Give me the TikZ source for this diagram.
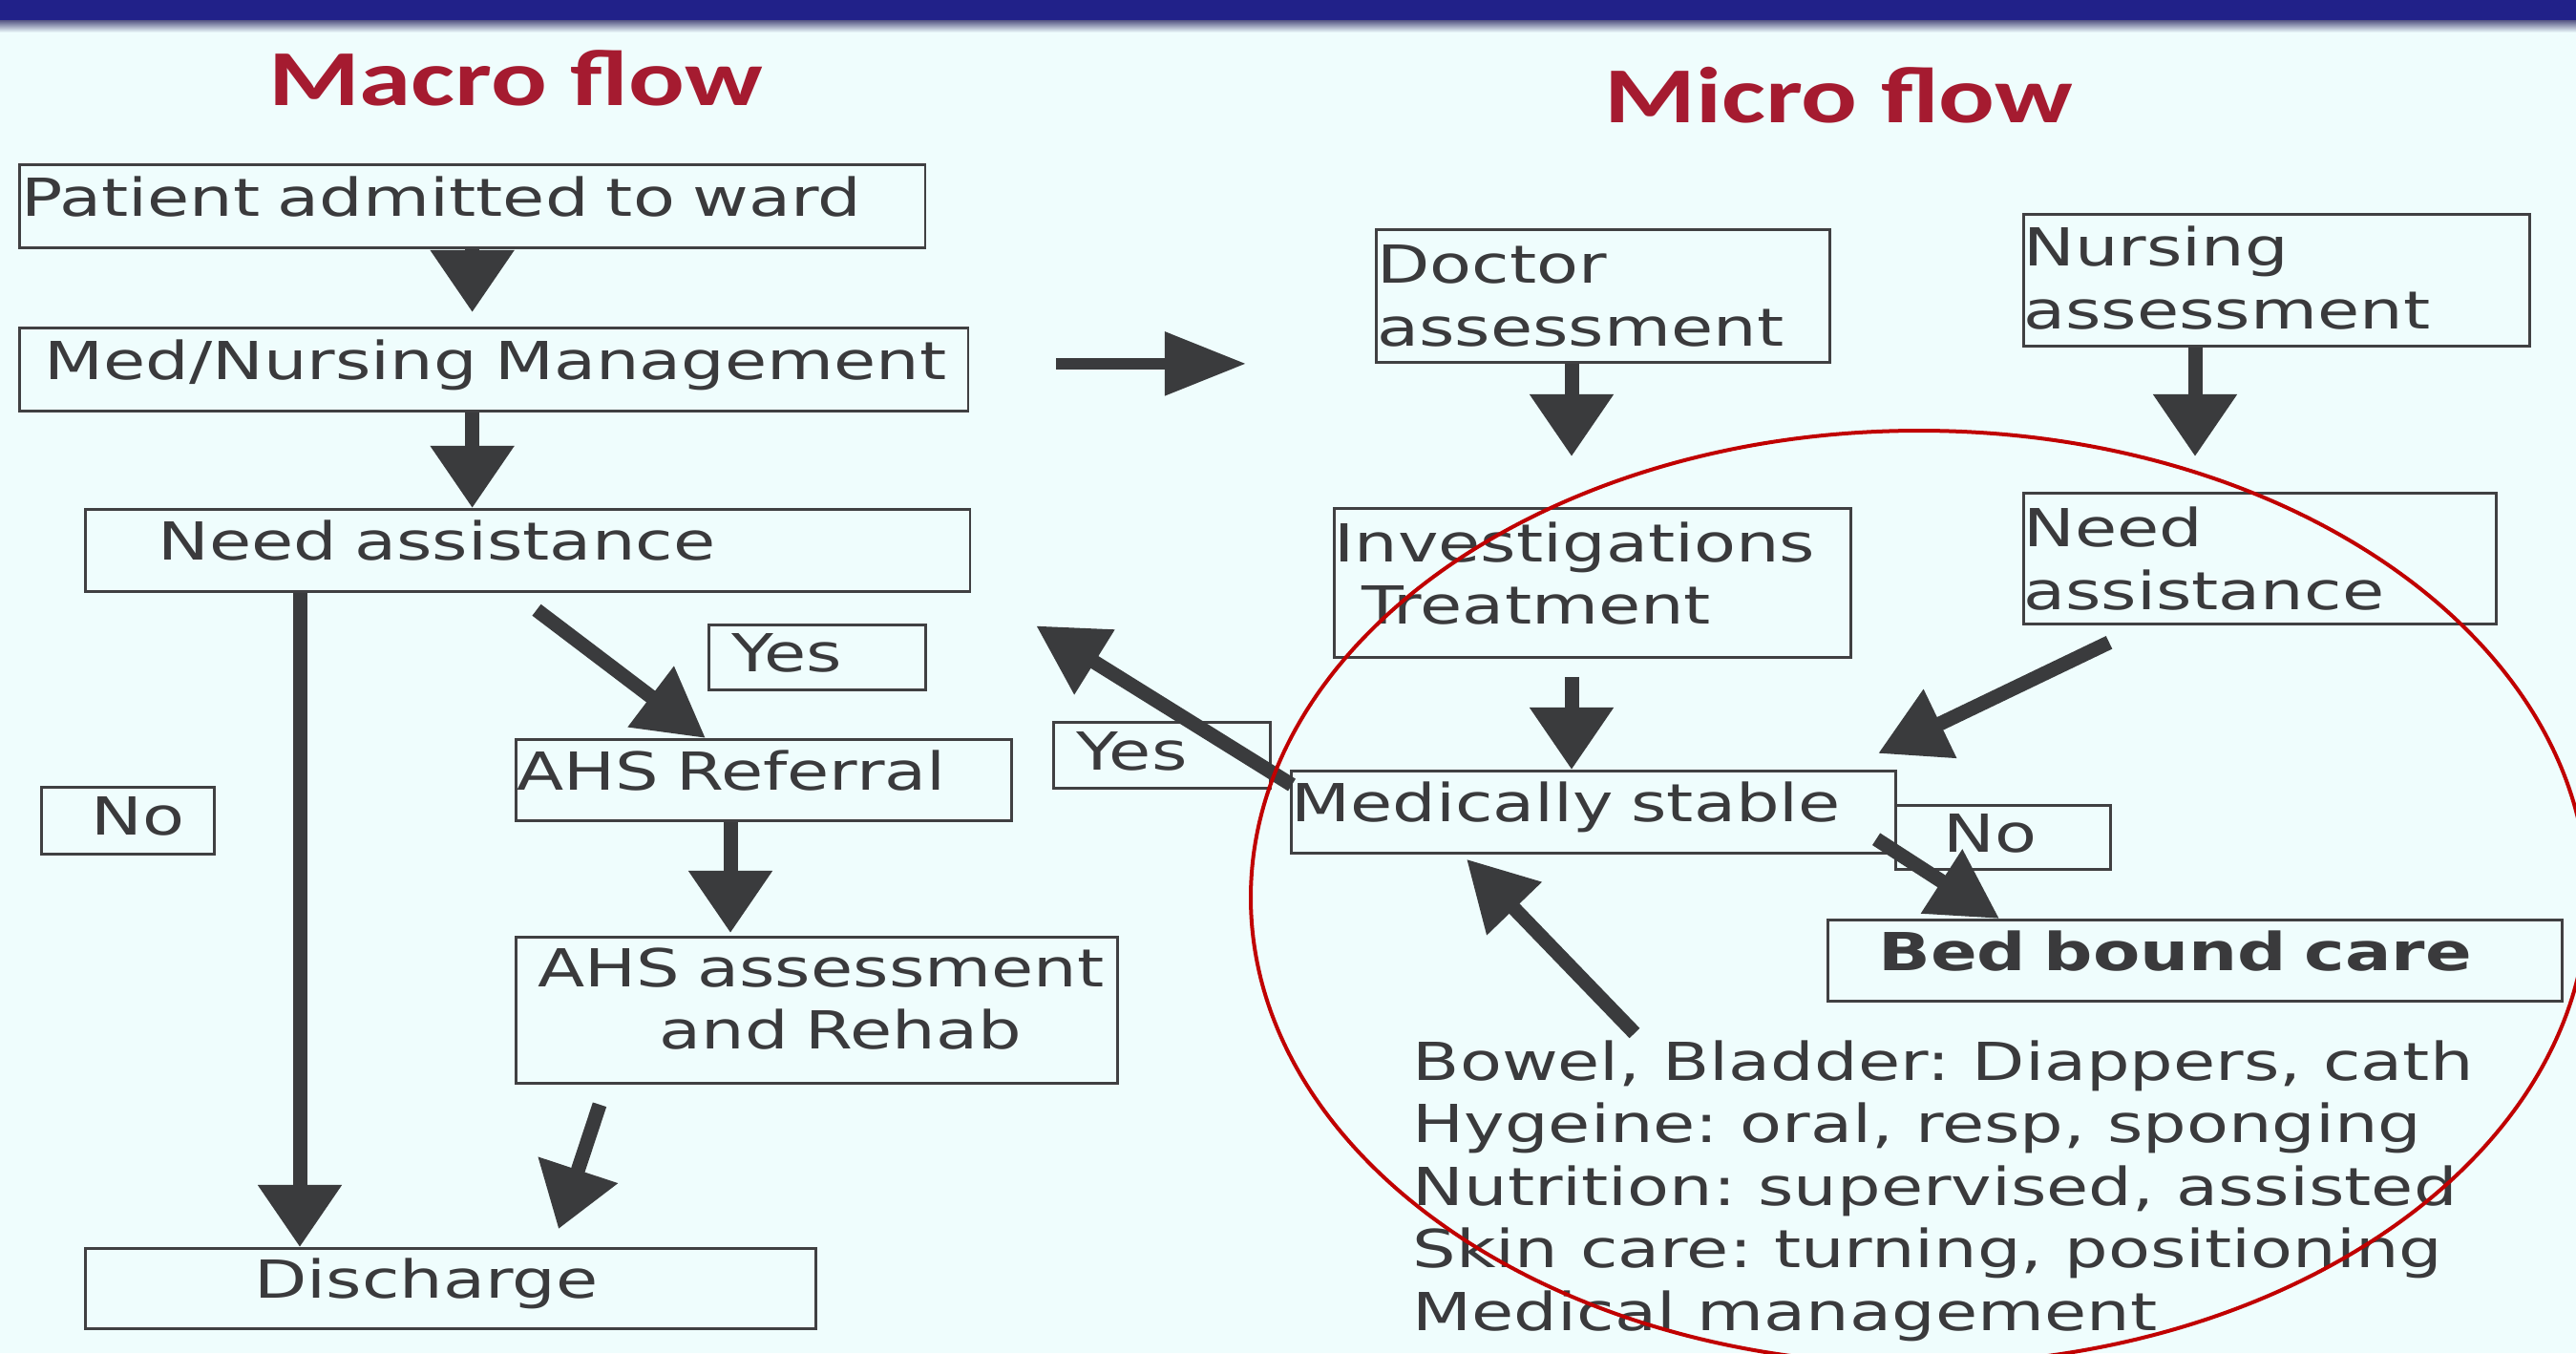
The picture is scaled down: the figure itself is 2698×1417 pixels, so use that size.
\documentclass[tikz,border=0pt]{standalone}
\usepackage{fontspec}
\setmainfont[FakeStretch=1.31]{DejaVu Sans}
\newfontfamily\titlefont[FakeStretch=1.32]{Carlito}
\usetikzlibrary{arrows.meta, calc}

\begin{document}
\begin{tikzpicture}[x=0.01cm, y=-0.01cm,
    font=\fontsize{15.6pt}{18.6pt}\selectfont\frenchspacing, text=txtgray,
    box/.style={draw=boxgray, line width=0.027cm, inner sep=0pt, align=left, anchor=north west},
    onebox/.style={box, text height=0.8em, text depth=0.2em},
    tagbox/.style={box, text height=0.9em, text depth=0.04em},
    flow/.style={draw=arrowgray, line width=0.15cm, -{Triangle[length=0.65cm, width=0.84cm]}},
    slant/.style={flow, -{Triangle[length=0.72cm, width=0.76cm]}},
    link/.style={draw=arrowgray, line width=0.12cm, -{Triangle[length=0.85cm, width=0.64cm]}},
    heading/.style={font=\titlefont\bfseries\fontsize{23.6pt}{28pt}\selectfont, text=titlered, anchor=base, inner sep=0pt}
]

% Colours
\definecolor{bgcyan}{RGB}{239, 253, 253}
\definecolor{barblue}{RGB}{33, 33, 137}
\definecolor{titlered}{RGB}{165, 27, 48}
\definecolor{txtgray}{RGB}{58, 58, 60}
\definecolor{boxgray}{RGB}{64, 64, 66}
\definecolor{arrowgray}{RGB}{58, 59, 61}
\definecolor{ringred}{RGB}{192, 0, 0}

% Slide background
\useasboundingbox (0,0) rectangle (2698,1417);
\fill[bgcyan] (0,0) rectangle (2698,1417);
\fill[barblue] (0,0) rectangle (2698,21);
\shade[top color=barblue!45!gray, bottom color=bgcyan] (0,21) rectangle (2698,34);

% ============ Titles ============
\node[heading] (macroT) at (540,110) {Macro flow};
\node[heading] (microT) at (1926,128) {Micro flow};

% ============ Macro flow ============
\node[onebox, text width=9.48cm, minimum height=0.87cm] (pat) at (19,171) {\hspace*{0.02cm}Patient admitted to ward};
\node[onebox, text width=9.93cm, minimum height=0.87cm] (mng) at (19,342) {\hspace*{0.26cm}\mbox{Med/Nursing Management}};
\node[onebox, text width=9.26cm, minimum height=0.86cm] (need) at (88,532) {\hspace*{0.76cm}Need assistance};
\node[tagbox, text width=1.81cm, minimum height=0.70cm] (noA) at (42,823) {\hspace*{0.52cm}No};
\node[tagbox, text width=2.27cm, minimum height=0.68cm] (yesA) at (741,653) {\hspace*{0.24cm}Yes};
\node[onebox, text width=5.19cm, minimum height=0.85cm] (ref) at (539,773) {\hspace*{0.01cm}AHS Referral};
\node[box, text width=6.30cm, minimum height=1.53cm] (reh) at (539,980)
    {\hspace*{0.23cm}\mbox{AHS assessment}\\\hspace*{1.5cm}and Rehab\rule[-0.44em]{0pt}{0pt}};
\node[onebox, text width=7.65cm, minimum height=0.84cm] (dis) at (88,1306) {\hspace*{1.77cm}Discharge};

% ============ Micro flow ============
\node[box, text width=4.75cm, minimum height=1.39cm] (doc) at (1440,239) {\hspace*{0.01cm}Doctor\\\hspace*{0.01cm}assessment};
\node[box, text width=5.30cm, minimum height=1.38cm] (nur) at (2118,223) {Nursing\\assessment\rule[-0.1em]{0pt}{0pt}};
\node[box, text width=5.41cm, minimum height=1.56cm] (inv) at (1396,531)
    {Investigations\\\hspace*{0.29cm}Treatment\rule[-0.38em]{0pt}{0pt}};
\node[box, text width=4.95cm, minimum height=1.37cm] (nd2) at (2118,515) {Need\\assistance};
\node[onebox, text width=6.33cm, minimum height=0.86cm] (stab) at (1351,806) {Medically stable};
\node[tagbox, text width=2.25cm, minimum height=0.67cm] (noB) at (1984,842) {\hspace*{0.5cm}No};
\node[tagbox, text width=2.27cm, minimum height=0.69cm] (yesB) at (1102,755) {\hspace*{0.24cm}Yes};
\node[onebox, text width=7.69cm, minimum height=0.85cm] (bed) at (1913,962) {\hspace*{0.53cm}\textbf{Bed bound care}};
\node[inner sep=0pt, align=left, anchor=north west] (care) at (1479,1089)
    {Bowel, Bladder: Diappers, cath\\Hygeine: oral, resp, sponging\\Nutrition: supervised, assisted\\Skin care: turning, positioning\\Medical management};

% ============ Arrows ============
\draw[flow] (pat.south) -- ($(pat.south |- mng.north)+(0,-15)$);
\draw[flow] (pat.south |- mng.south) -- (pat.south |- need.north);
\draw[flow] ($(need.south west)+(226,0)$) -- ($(need.south west |- dis.north)+(226,0)$);
\draw[slant] ($(need.south west)+(474,18)$) -- ($(ref.north west)+(200,0)$);
\draw[flow] ($(ref.south west)+(226,0)$) -- ($(ref.south west |- reh.north)+(226,-3)$);
\draw[flow] ($(reh.south west)+(89,21)$) -- ($(dis.north west)+(497,-19)$);
\draw[link] ($(mng.east)+(91,-6)$) -- ($(doc.west |- mng.east)+(-135,-6)$);
\draw[flow] ($(doc.south west)+(206,0)$) -- ($(doc.south west |- inv.north)+(206,-53)$);
\draw[flow] ($(nur.south west)+(181,0)$) -- ($(nur.south west |- nd2.north)+(181,-37)$);
\draw[flow] ($(inv.south west)+(250,19)$) -- ($(inv.south west |- stab.north)+(250,0)$);
\draw[slant] ($(nd2.south west)+(91,18)$) -- ($(stab.north east)+(-20,-17)$);
\draw[slant] ($(stab.south east)+(-22,-16)$) -- ($(bed.north west)+(181,0)$);
\draw[slant] ($(care.north west)+(233,-7)$) -- ($(stab.south west)+(185,5)$);
\draw[slant] ($(stab.north west)+(2,16)$) -- ($(need.east)+(68,79)$);

% Red ring round the bedside part
\draw[ringred, line width=0.04cm] (2010,940) ellipse [x radius=700, y radius=489];

\end{tikzpicture}
\end{document}
